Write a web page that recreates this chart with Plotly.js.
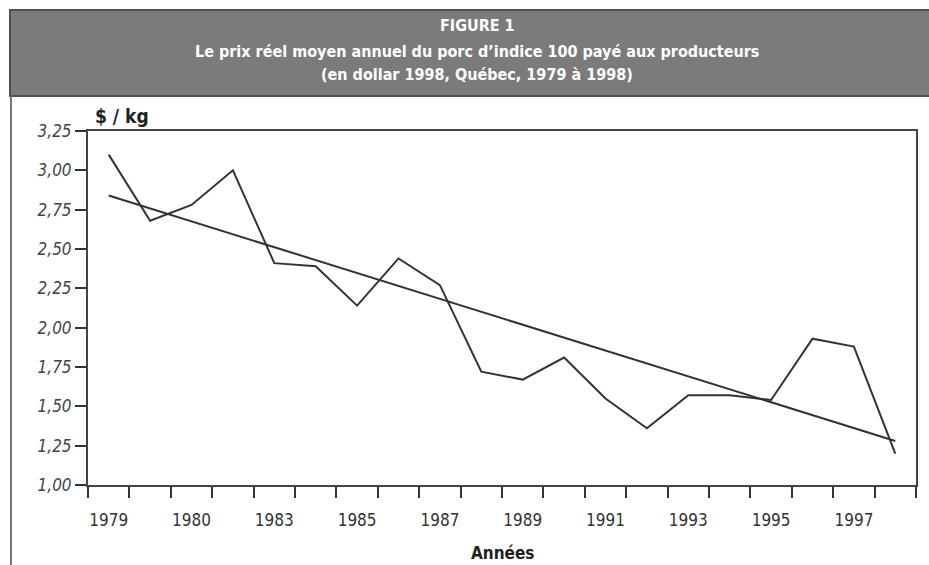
<!DOCTYPE html>
<html>
<head>
<meta charset="utf-8">
<script src="https://cdn.plot.ly/plotly-3.0.1.min.js"></script>
<style>html,body{margin:0;padding:0;background:#fff;}#chart{width:929px;height:565px;}</style>
</head>
<body>
<div id="chart"></div>
<script>
// Data
var years = [1979,1980,1981,1982,1983,1984,1985,1986,1987,1988,1989,1990,1991,1992,1993,1994,1995,1996,1997,1998];
var prices = [3.10,2.68,2.78,3.00,2.41,2.39,2.14,2.44,2.27,1.72,1.67,1.81,1.55,1.36,1.57,1.57,1.54,1.93,1.88,1.20];
var trendYears = [1979, 1998];
var trendValues = [2.84, 1.28];
var xTickVals = [1979,1981,1983,1985,1987,1989,1991,1993,1995,1997];
var xTickText = ['1979','1980','1983','1985','1987','1989','1991','1993','1995','1997'];
var yTickVals = [1.00,1.25,1.50,1.75,2.00,2.25,2.50,2.75,3.00,3.25];
var titleLines = ['FIGURE 1',
  'Le prix réel moyen annuel du porc d\u2019indice 100 payé aux producteurs',
  '(en dollar 1998, Québec, 1979 à 1998)'];
var yTitle = '$ / kg';
var xTitle = 'Années';

// pixel helpers (plot area: x 88..916, y 131..485)
var L = 88, R = 916, T = 131, B = 485;
function px(x){ return (x - L) / (R - L); }
function py(y){ return (B - y) / (B - T); }

var FONT = '"DejaVu Sans Condensed", "Liberation Sans Narrow", Arial, sans-serif';
var lineColor = '#333';

var traces = [
  {x: years, y: prices, type: 'scatter', mode: 'lines',
   line: {color: lineColor, width: 2}, hoverinfo: 'skip'},
  {x: trendYears, y: trendValues, type: 'scatter', mode: 'lines',
   line: {color: lineColor, width: 2}, hoverinfo: 'skip'}
];

var titleY = [25, 51, 74];
var annotations = titleLines.map(function(t, i){
  return {text: '<b>' + t + '</b>', xref: 'paper', yref: 'paper',
    x: px(477), y: py(titleY[i]), xanchor: 'center', yanchor: 'middle',
    showarrow: false, font: {family: FONT, size: 16, color: '#ffffff'}};
});
annotations.push({text: '<b>' + yTitle + '</b>', xref: 'paper', yref: 'paper',
  x: px(93), y: py(116), xanchor: 'left', yanchor: 'middle', showarrow: false,
  font: {family: FONT, size: 19, color: '#222'}});
annotations.push({text: '<b>' + xTitle + '</b>', xref: 'paper', yref: 'paper',
  x: px(502), y: py(553), xanchor: 'center', yanchor: 'middle', showarrow: false,
  font: {family: FONT, size: 17, color: '#222'}});

var shapes = [
  {type: 'rect', xref: 'paper', yref: 'paper', x0: px(10), x1: px(935), y0: py(96), y1: py(10),
   fillcolor: '#7b7b7b', line: {color: '#505050', width: 2}, layer: 'below'},
  {type: 'line', xref: 'paper', yref: 'paper', x0: px(11), x1: px(11), y0: py(96), y1: py(570),
   line: {color: '#777', width: 2}}
];

var layout = {
  width: 929, height: 565,
  margin: {l: L, r: 929 - R, t: T, b: 565 - B, pad: 0},
  paper_bgcolor: '#ffffff', plot_bgcolor: '#ffffff',
  showlegend: false,
  separators: ', ',
  xaxis: {
    range: [1978.5, 1998.5], tickmode: 'array', tickvals: xTickVals, ticktext: xTickText,
    ticks: 'outside', ticklen: 19, tickcolor: 'rgba(0,0,0,0)',
    minor: {tickmode: 'linear', tick0: 1978.5, dtick: 1, ticks: 'outside', ticklen: 11, tickwidth: 2, tickcolor: '#333', showgrid: false},
    showgrid: false, zeroline: false, showline: true, mirror: true, linecolor: '#444', linewidth: 2,
    tickfont: {family: FONT, size: 17, color: '#333'}, fixedrange: true
  },
  yaxis: {
    range: [1, 3.25], tickmode: 'array', tickvals: yTickVals, tickformat: '.2f',
    ticks: 'outside', ticklen: 11, tickwidth: 2, tickcolor: '#333',
    showgrid: false, zeroline: false, showline: true, mirror: true, linecolor: '#444', linewidth: 2,
    tickfont: {family: FONT, size: 17, color: '#444', style: 'italic'}, fixedrange: true
  },
  annotations: annotations,
  shapes: shapes
};

Plotly.newPlot('chart', traces, layout, {displayModeBar: false, staticPlot: true});
</script>
</body>
</html>
